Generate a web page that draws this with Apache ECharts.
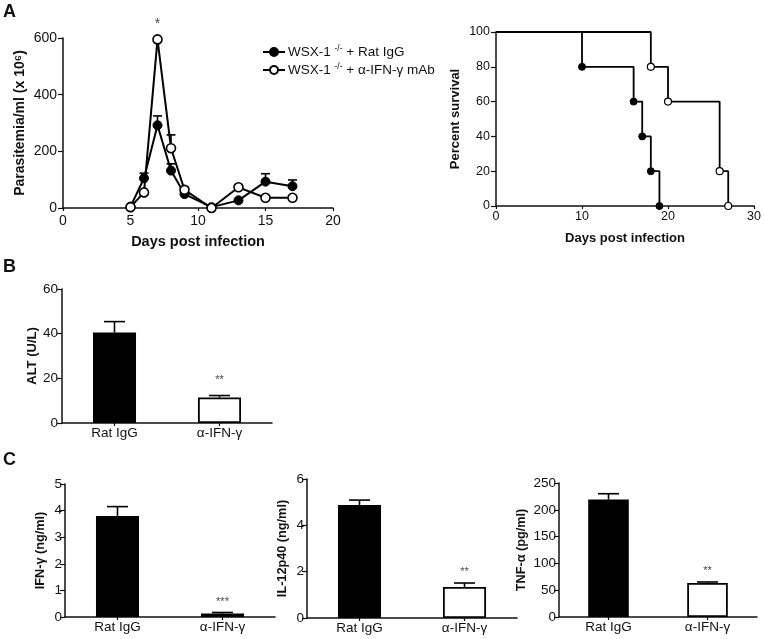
<!DOCTYPE html>
<html><head><meta charset="utf-8">
<script src="https://cdn.jsdelivr.net/npm/echarts@6/dist/echarts.min.js"></script>
<style>html,body{margin:0;padding:0;background:#fff}#c{width:764px;height:639px}</style>
</head><body><div id="c"></div>
<script>
// ---- Data ----
const paraDays = [5, 6, 7, 8, 9, 11, 13, 15, 17];
const ratMean = [5, 105, 292, 132, 49, 3, 27, 93, 77];
const ratErr  = [0, 18, 33, 24, 5, 0, 0, 28, 22];
const ifnMean = [3, 55, 595, 211, 64, 0, 73, 36, 36];
const ifnErr  = [0, 0, 0, 47, 9, 0, 0, 0, 0];
const paraTicks = {xmin:0, xmax:20, xint:5, ymin:0, ymax:600, yint:200};

const survRat = [[0,100],[10,80],[16,60],[17,40],[18,20],[19,0]];
const survIfn = [[0,100],[18,80],[20,60],[26,20],[27,0]];

const barCats = ['Rat IgG', 'α-IFN-γ'];
const altMean = [40.5, 11.4];   const altErr = [4.9, 0.9];
const ifngMean = [3.8, 0.13];   const ifngErr = [0.35, 0.04];
const il12Mean = [4.88, 1.34];  const il12Err = [0.21, 0.17];
const tnfMean = [219, 63.5];    const tnfErr = [11, 1.8];
const altStars = '**', ifngStars = '***', il12Stars = '**', tnfStars = '**';

const FONT = 'Liberation Sans, Arial, sans-serif';
const chart = echarts.init(document.getElementById('c'), null, {renderer:'canvas'});

function errRender(capHalf){
  return function(params, api){
    const x = api.value(0), lo = api.value(1), hi = api.value(2);
    const p1 = api.coord([x, lo]), p2 = api.coord([x, hi]);
    return {type:'group', children:[
      {type:'line', shape:{x1:p1[0],y1:p1[1],x2:p2[0],y2:p2[1]}, style:{stroke:'#000',lineWidth:1.6}},
      {type:'line', shape:{x1:p2[0]-capHalf,y1:p2[1],x2:p2[0]+capHalf,y2:p2[1]}, style:{stroke:'#000',lineWidth:1.6}}
    ]};
  };
}
const axisLine = {show:true, onZero:false, lineStyle:{color:'#111', width:1.5}};
const yTick = {show:true, inside:false, length:5, lineStyle:{color:'#111', width:1.2}};
const xTick = {show:true, inside:false, length:3, lineStyle:{color:'#111', width:1.2}};
const lab = (s, m)=>({color:'#111', fontFamily:FONT, fontSize:s, margin:m});
const nameStyle = (s)=>({color:'#111', fontFamily:FONT, fontSize:s, fontWeight:'bold'});

function valY(gi, max, interval, name, gap, nameSize, labSize, labMargin){
  return {type:'value', gridIndex:gi, min:0, max:max, interval:interval, name:name,
    nameLocation:'middle', nameGap:gap, nameTextStyle:nameStyle(nameSize),
    axisLine:axisLine, axisTick:yTick, axisLabel:lab(labSize, labMargin), splitLine:{show:false}};
}
function catX(gi){
  return {type:'category', gridIndex:gi, data:barCats, boundaryGap:true,
    axisLine:axisLine, axisTick:{show:true, alignWithLabel:true, length:3, lineStyle:{color:'#111',width:1.2}},
    axisLabel:lab(13.5, 3)};
}
function barSeries(gi, means, errs, stars, starGap){
  const out = [];
  out.push({type:'bar', xAxisIndex:gi, yAxisIndex:gi, barWidth:'41%', silent:true,
    data: means.map((v,i)=>({value:v, itemStyle: i===0 ? {color:'#000', borderColor:'#000', borderWidth:1.5} : {color:'#fff', borderColor:'#000', borderWidth:1.8}}))});
  out.push({type:'custom', xAxisIndex:gi, yAxisIndex:gi, z:1, silent:true, renderItem:errRender(10.5),
    data: means.map((v,i)=>[i, v, v+errs[i]])});
  out.push({type:'scatter', xAxisIndex:gi, yAxisIndex:gi, symbolSize:0, silent:true,
    data:[[1, means[1]+errs[1]]],
    label:{show:true, position:'top', distance:starGap, formatter:stars, color:'#111', fontSize:11, fontFamily:FONT}});
  return out;
}

const sup = {fontSize:8.5, fontFamily:FONT, color:'#111', verticalAlign:'top', padding:[0,0,7,0]};
const option = {
  animation:false,
  backgroundColor:'#fff',
  title:[
    {text:'A', left:3, top:3, padding:0, textStyle:{fontSize:18, fontWeight:'bold', fontFamily:FONT, color:'#111'}},
    {text:'B', left:3, top:258, padding:0, textStyle:{fontSize:18, fontWeight:'bold', fontFamily:FONT, color:'#111'}},
    {text:'C', left:3, top:451, padding:0, textStyle:{fontSize:18, fontWeight:'bold', fontFamily:FONT, color:'#111'}}
  ],
  legend:{
    left:257, top:39, orient:'vertical', itemWidth:22, itemHeight:10, itemGap:3,
    data:['WSX-1 -/- + Rat IgG', 'WSX-1 -/- + α-IFN-γ mAb'],
    formatter:function(n){
      const rest = n.replace('WSX-1 -/- ', '');
      return '{n|WSX-1 }{s|-/-}{n| ' + rest + '}';
    },
    textStyle:{fontFamily:FONT, fontSize:13.5, color:'#111', padding:[0,0,0,-2], rich:{n:{fontSize:13.5, fontFamily:FONT, color:'#111'}, s:sup}}
  },
  grid:[
    {left:63, top:38, width:270, height:170},
    {left:496, top:32, width:261, height:174},
    {left:62, top:289, width:210, height:134},
    {left:65, top:484, width:210, height:133},
    {left:307, top:479, width:210, height:139},
    {left:559, top:483, width:198, height:134}
  ],
  xAxis:[
    {type:'value', gridIndex:0, min:paraTicks.xmin, max:paraTicks.xmax, interval:paraTicks.xint,
      name:'Days post infection', nameLocation:'middle', nameGap:26, nameTextStyle:nameStyle(14.5),
      axisLine:axisLine, axisTick:xTick, axisLabel:lab(14, 6), splitLine:{show:false}},
    {type:'value', gridIndex:1, min:0, max:30, interval:10,
      name:'Days post infection', nameLocation:'middle', nameGap:26, nameTextStyle:nameStyle(13),
      axisLine:axisLine, axisTick:xTick, axisLabel:lab(12.5, 4), splitLine:{show:false}},
    catX(2), catX(3), catX(4), catX(5)
  ],
  yAxis:[
    Object.assign(valY(0, paraTicks.ymax, paraTicks.yint, 'Parasitemia/ml (x 10⁶)', 36, 14, 14, 6), {min:paraTicks.ymin}),
    valY(1, 100, 20, 'Percent survival', 34, 13, 12.5, 6),
    valY(2, 60, 20, 'ALT (U/L)', 21, 13, 13.5, 4),
    valY(3, 5, 1, 'IFN-γ (ng/ml)', 18, 12.7, 13.5, 3),
    valY(4, 6, 2, 'IL-12p40 (ng/ml)', 18, 12.7, 13.5, 3),
    valY(5, 250, 50, 'TNF-α (pg/ml)', 31, 12.7, 13.5, 3)
  ],
  series:[
    {type:'custom', xAxisIndex:0, yAxisIndex:0, z:1, silent:true, renderItem:errRender(4.5),
      data: paraDays.map((d,i)=>[d, ratMean[i], ratMean[i]+ratErr[i]]).filter((r,i)=>ratErr[i]>0)},
    {type:'custom', xAxisIndex:0, yAxisIndex:0, z:1, silent:true, renderItem:errRender(4.5),
      data: paraDays.map((d,i)=>[d, ifnMean[i], ifnMean[i]+ifnErr[i]]).filter((r,i)=>ifnErr[i]>0)},
    {name:'WSX-1 -/- + Rat IgG', type:'line', xAxisIndex:0, yAxisIndex:0, z:3,
      data: paraDays.map((d,i)=>[d, ratMean[i]]), symbol:'circle', symbolSize:9, showAllSymbol:true,
      lineStyle:{color:'#000', width:2}, itemStyle:{color:'#000', borderColor:'#000', borderWidth:1}},
    {name:'WSX-1 -/- + α-IFN-γ mAb', type:'line', xAxisIndex:0, yAxisIndex:0, z:3,
      data: paraDays.map((d,i)=>[d, ifnMean[i]]), symbol:'circle', symbolSize:9, showAllSymbol:true,
      lineStyle:{color:'#000', width:2}, itemStyle:{color:'#fff', borderColor:'#000', borderWidth:1.6}},
    {type:'scatter', xAxisIndex:0, yAxisIndex:0, symbolSize:0, silent:true, data:[[7, 595]],
      label:{show:true, position:'top', distance:8, formatter:'*', color:'#111', fontSize:14, fontFamily:FONT}},
    {name:'survRat', type:'line', xAxisIndex:1, yAxisIndex:1, step:'end', z:3,
      data: survRat.map((p,i)=> i===0 ? {value:p, symbol:'none'} : p), symbol:'circle', symbolSize:7, showAllSymbol:true,
      lineStyle:{color:'#000', width:1.8}, itemStyle:{color:'#000', borderColor:'#000', borderWidth:1}},
    {name:'survIfn', type:'line', xAxisIndex:1, yAxisIndex:1, step:'end', z:3,
      data: survIfn.map((p,i)=> i===0 ? {value:p, symbol:'none'} : p), symbol:'circle', symbolSize:7, showAllSymbol:true,
      lineStyle:{color:'#000', width:1.8}, itemStyle:{color:'#fff', borderColor:'#000', borderWidth:1.2}}
  ].concat(barSeries(2, altMean, altErr, altStars, 10))
   .concat(barSeries(3, ifngMean, ifngErr, ifngStars, 5))
   .concat(barSeries(4, il12Mean, il12Err, il12Stars, 6))
   .concat(barSeries(5, tnfMean, tnfErr, tnfStars, 6))
};
chart.setOption(option);
</script></body></html>
